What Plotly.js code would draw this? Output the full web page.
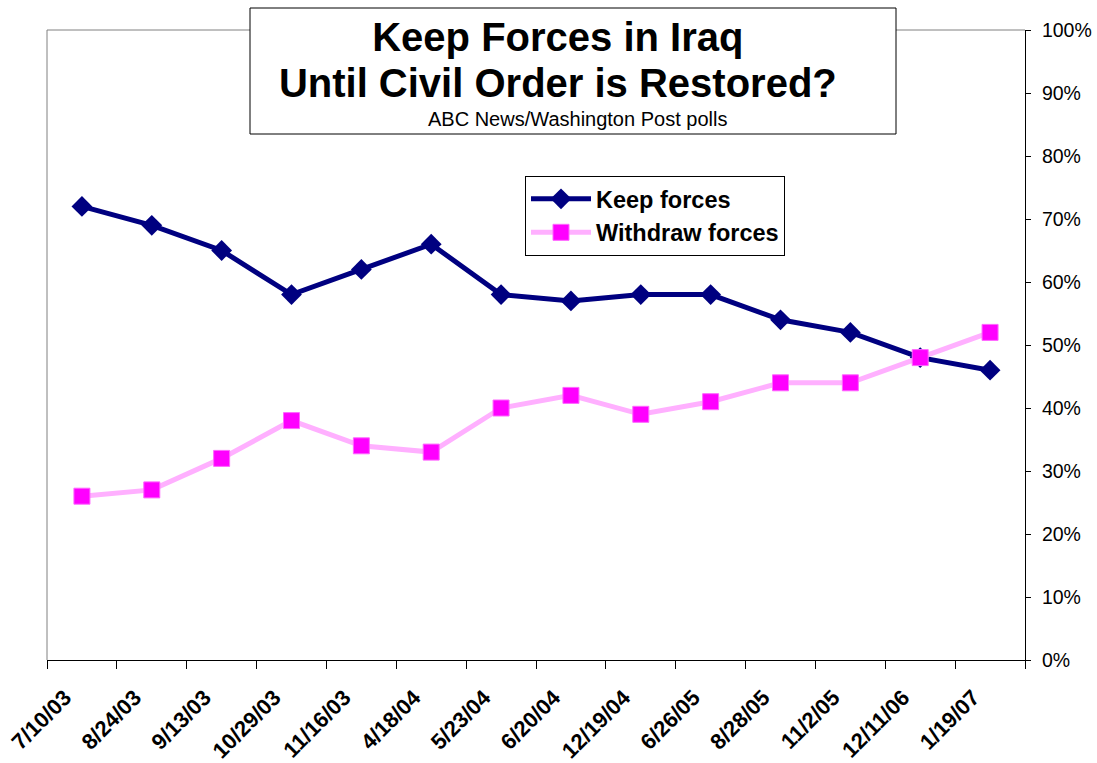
<!DOCTYPE html>
<html>
<head>
<meta charset="utf-8">
<script src="https://cdn.plot.ly/plotly-3.0.1.min.js"></script>
<style>html,body{margin:0;padding:0;background:#fff;}#chart{width:1097px;height:763px;}</style>
</head>
<body>
<div id="chart"></div>
<script>
const pollDates = ["7/10/03","8/24/03","9/13/03","10/29/03","11/16/03","4/18/04","5/23/04","6/20/04","12/19/04","6/26/05","8/28/05","11/2/05","12/11/06","1/19/07"];
const keepForces = [72,69,65,58,62,66,58,57,58,58,54,52,48,46];
const withdrawForces = [26,27,32,38,34,33,40,42,39,41,44,44,48,52];
const seriesNames = ["Keep forces","Withdraw forces"];
const titleLines = ["Keep Forces in Iraq","Until Civil Order is Restored?"];
const subtitleText = "ABC News/Washington Post polls";

const FONT = "Arial, 'Liberation Sans', sans-serif";

const traces = [
  {
    x: pollDates, y: keepForces, name: seriesNames[0], type: "scatter", mode: "lines+markers",
    line: {color: "#000080", width: 5},
    marker: {symbol: "diamond", size: 16, color: "#000080"}
  },
  {
    x: pollDates, y: withdrawForces, name: seriesNames[1], type: "scatter", mode: "lines+markers",
    line: {color: "#FFB0FF", width: 5},
    marker: {symbol: "square", size: 16, color: "#FF00FF", line: {color: "#FF66FF", width: 1}}
  }
];

const titleHtml = titleLines.map(t => '<span style="font-size:40px">' + t + '</span>').join('<br>');

const layout = {
  width: 1097, height: 763,
  margin: {l: 47, r: 72, t: 30, b: 103, pad: 0},
  paper_bgcolor: "#ffffff", plot_bgcolor: "#ffffff",
  font: {family: FONT, color: "#000"},
  showlegend: true,
  title: {
    text: titleHtml,
    font: {family: FONT, size: 35.4, weight: "bold", color: "#000"},
    x: 573/1097, xanchor: "center", xref: "paper",
    y: 1 - 50.5/763, yanchor: "middle", yref: "container"
  },
  xaxis: {
    type: "category", range: [-0.5, 13.5], tickson: "boundaries",
    ticks: "outside", ticklen: 8, tickcolor: "#000", tickwidth: 1,
    showline: true, linecolor: "#000", linewidth: 1,
    showgrid: false, zeroline: false,
    tickangle: -45,
    ticklabelstandoff: 15, ticklabelshift: -17,
    tickfont: {family: FONT, size: 22, weight: "bold", color: "#000"},
    fixedrange: true
  },
  yaxis: {
    side: "right", range: [0, 100], dtick: 10, ticksuffix: "%",
    ticks: "outside", ticklen: 5, tickcolor: "#000",
    showline: true, linecolor: "#000", linewidth: 1,
    showgrid: false, zeroline: false,
    ticklabelstandoff: 7,
    tickfont: {family: FONT, size: 19.5, color: "#000"},
    fixedrange: true
  },
  legend: {
    x: (525-47)/978, y: (660-176)/630, xanchor: "left", yanchor: "top",
    bgcolor: "#ffffff", bordercolor: "#000", borderwidth: 1,
    font: {family: FONT, size: 23.5, weight: "bold", color: "#000"},
    itemwidth: 60
  },
  shapes: [
    {type: "line", xref: "paper", yref: "paper", x0: 0, x1: 0, y0: 0, y1: 1, line: {color: "#808080", width: 1}},
    {type: "line", xref: "paper", yref: "paper", x0: 0, x1: 1, y0: 1, y1: 1, line: {color: "#808080", width: 1}},
    {type: "rect", xref: "paper", yref: "paper", layer: "above",
     x0: (250-47)/978, x1: (896-47)/978, y0: (660-134)/630, y1: (660-8)/630,
     line: {color: "#000", width: 1}, fillcolor: "#ffffff"}
  ],
  annotations: [
    {text: subtitleText, xref: "paper", yref: "paper", x: (577-47)/978, y: (660-119)/630,
     xanchor: "center", yanchor: "middle", showarrow: false,
     font: {family: FONT, size: 20, color: "#000"}}
  ]
};

Plotly.newPlot("chart", traces, layout, {displayModeBar: false, staticPlot: true});
</script>
</body>
</html>
